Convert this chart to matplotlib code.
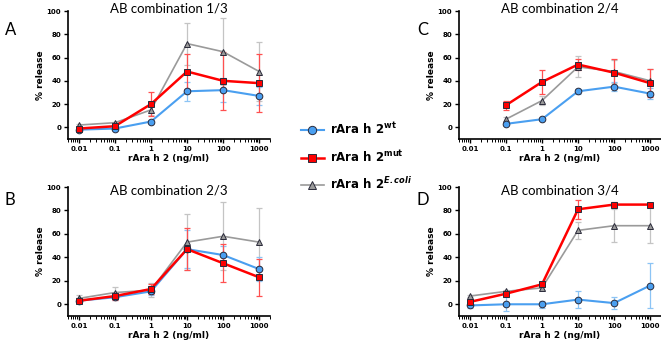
import numpy as np
import matplotlib.pyplot as plt
from matplotlib.lines import Line2D

# concentrations (ng/ml)
conc = [0.01, 0.1, 1, 10, 100, 1000]
conc_c = [0.1, 1, 10, 100, 1000]

# A: AB combination 1/3
a_wt = [-2, -1, 5, 31, 32, 27]
a_wt_err = [1, 1, 1, 8, 10, 8]
a_mut = [-1, 1, 20, 48, 40, 38]
a_mut_err = [1, 2, 10, 15, 25, 25]
a_eco = [2, 4, 15, 72, 65, 48]
a_eco_err = [1, 1, 4, 18, 29, 25]

# B: AB combination 2/3
b_wt = [3, 6, 11, 47, 42, 30]
b_wt_err = [2, 2, 3, 16, 8, 10]
b_mut = [3, 7, 13, 47, 35, 23]
b_mut_err = [2, 3, 4, 18, 16, 16]
b_eco = [5, 10, 12, 53, 58, 53]
b_eco_err = [3, 5, 6, 24, 29, 29]

# C: AB combination 2/4 (no 0.01 point)
c_wt = [3, 7, 31, 35, 29]
c_wt_err = [1, 1, 2, 4, 5]
c_mut = [19, 39, 54, 47, 38]
c_mut_err = [4, 10, 5, 12, 12]
c_eco = [7, 23, 52, 48, 40]
c_eco_err = [2, 4, 9, 10, 10]

# D: AB combination 3/4
d_wt = [-1, 0, 0, 4, 1, 16]
d_wt_err = [2, 6, 3, 7, 5, 19]
d_mut = [2, 9, 17, 81, 85, 85]
d_mut_err = [2, 2, 2, 8, 2, 1]
d_eco = [7, 11, 14, 63, 67, 67]
d_eco_err = [1, 1, 2, 7, 14, 15]

titles = ['AB combination 1/3', 'AB combination 2/3',
          'AB combination 2/4', 'AB combination 3/4']
letters = ['A', 'B', 'C', 'D']

blue, blue_err = '#4a9ff0', '#8cc4f5'
red, red_err = '#ff0000', '#ff5050'
grey, grey_err = '#9a9a9a', '#c4c4c4'
edge = '#2a2a3a'

W, H = 661, 343
fig = plt.figure(figsize=(W / 100, H / 100), dpi=100)


def px_axes(left, top, right, bottom):
    return fig.add_axes([left / W, 1 - bottom / H, (right - left) / W, (bottom - top) / H])


boxes = [(68, 11, 270, 139), (68, 187, 270, 316),
         (459, 11, 661, 139), (459, 187, 661, 316)]
panels = [
    (conc, a_wt, a_wt_err, a_mut, a_mut_err, a_eco, a_eco_err),
    (conc, b_wt, b_wt_err, b_mut, b_mut_err, b_eco, b_eco_err),
    (conc_c, c_wt, c_wt_err, c_mut, c_mut_err, c_eco, c_eco_err),
    (conc, d_wt, d_wt_err, d_mut, d_mut_err, d_eco, d_eco_err),
]
letter_pos = [(5, 30), (5, 200), (417, 30), (416, 200)]
title_y = [1.02, 0.97, 1.02, 0.97]

for box, data, title, letter, lp, ty in zip(boxes, panels, titles, letters, letter_pos, title_y):
    ax = px_axes(*box)
    x, wt, wte, mut, mute, eco, ecoe = data
    series = [
        (eco, ecoe, grey, grey_err, '^', 1.2),
        (wt, wte, blue, blue_err, 'o', 1.5),
        (mut, mute, red, red_err, 's', 1.8),
    ]
    for y, e, c, ec, m, lw in series:
        ax.errorbar(x, y, yerr=e, fmt='none', ecolor=ec, elinewidth=0.9,
                    capsize=2.5, capthick=0.9, zorder=2)
    for y, e, c, ec, m, lw in series:
        ax.plot(x, y, color=c, lw=lw, marker=m, ms=4.8 if m != '^' else 4.4,
                mfc=c, mec=edge, mew=0.7, zorder=3)
    ax.set_xscale('log')
    ax.set_xlim(0.005, 2000)
    ax.set_ylim(-10, 100)
    ax.set_xticks(conc)
    ax.set_xticklabels(['0.01', '0.1', '1', '10', '100', '1000'])
    ax.set_yticks([0, 20, 40, 60, 80, 100])
    for s in ['top', 'right']:
        ax.spines[s].set_visible(False)
    for s in ['left', 'bottom']:
        ax.spines[s].set_linewidth(1.2)
    ax.tick_params(which='major', length=3, width=1, labelsize=5, pad=2)
    ax.tick_params(which='minor', length=1.8, width=0.7)
    for lab in ax.get_xticklabels() + ax.get_yticklabels():
        lab.set_fontweight('bold')
    ax.set_xlabel('rAra h 2 (ng/ml)', fontsize=6.5, fontweight='bold', labelpad=1.5)
    ax.set_ylabel('% release', fontsize=6.5, fontweight='bold', labelpad=1)
    ax.text(0.5, ty, title, transform=ax.transAxes, ha='center', va='center',
            fontsize=9.5, family='Lato')
    fig.text(lp[0] / W, 1 - lp[1] / H, letter, fontsize=12, family='Lato',
             ha='left', va='center')

handles = [
    Line2D([], [], color=blue, lw=1.5, marker='o', ms=6, mfc=blue, mec=edge, mew=0.7),
    Line2D([], [], color=red, lw=1.8, marker='s', ms=6, mfc=red, mec=edge, mew=0.7),
    Line2D([], [], color=grey, lw=1.2, marker='^', ms=5.5, mfc=grey, mec=edge, mew=0.7),
]
labels = [r'rAra h 2$^{\mathbf{wt}}$', r'rAra h 2$^{\mathbf{mut}}$',
          r'rAra h 2$^{\mathbfit{E.coli}}$']
leg = fig.legend(handles, labels, loc='center left', bbox_to_anchor=(290 / W, 1 - 157 / H),
                 frameon=False, handlelength=2.0, labelspacing=1.0,
                 handletextpad=0.5, prop={'weight': 'bold', 'size': 8.5})

fig.savefig('out.png', dpi=100)
